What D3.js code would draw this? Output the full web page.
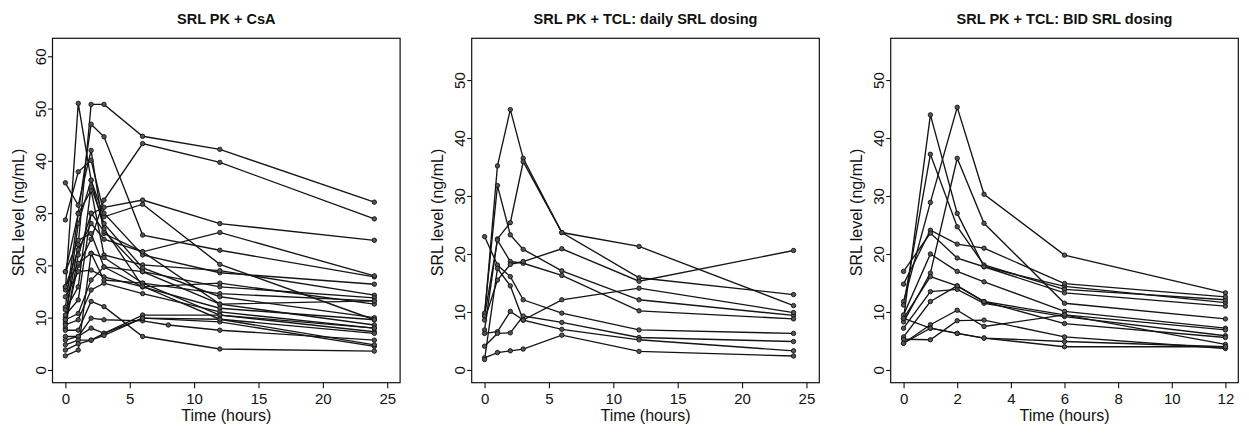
<!DOCTYPE html>
<html>
<head>
<meta charset="utf-8">
<script src="https://cdn.jsdelivr.net/npm/d3@7"></script>
<style>
  body { margin: 0; background: #fff; }
  svg { font-family: "Liberation Sans", Arial, Helvetica, sans-serif; }
  .title { font-size: 14.5px; font-weight: bold; }
  .axis-label { font-size: 16px; }
</style>
</head>
<body>
<div id="chart"></div>
<script>
// sampling times (hours)
var csaTimes = [0, 1, 2, 3, 6, 8, 12, 24];
var dailyTimes = [0, 1, 2, 3, 6, 12, 24];
var bidTimes = [0, 1, 2, 3, 6, 12];

// SRL levels (ng/mL) per subject, null = not sampled
var csaLevels = [
    [10.0, 24.0, 50.8, 50.8, 44.7, null, 42.2, 32.1],
    [9.0, 20.0, 25.0, 32.5, 43.3, null, 39.7, 28.9],
    [12.0, 30.0, 47.0, 44.6, 25.8, null, 22.9, 17.8],
    [8.0, 22.0, 29.9, 31.1, 32.5, null, 28.0, 24.8],
    [15.3, 51.0, 36.3, 29.3, 31.7, null, 20.2, 9.6],
    [35.8, 31.5, 42.0, 26.1, 22.6, null, 26.3, 18.0],
    [28.7, 37.9, 40.1, 30.0, 22.0, null, 18.6, 16.4],
    [18.8, 29.9, 34.4, 22.0, 20.1, null, 19.0, 14.3],
    [18.8, 24.8, 26.1, 19.7, 18.8, null, 15.9, 13.8],
    [15.9, 20.4, 22.3, 21.5, 16.6, null, 14.6, 13.2],
    [14.0, 18.8, 19.1, 17.8, 15.9, null, 16.6, 12.6],
    [11.5, 15.9, 35.0, 28.0, 19.5, null, 14.0, 10.0],
    [10.5, 13.4, 30.0, 26.5, 18.8, null, 12.6, 8.6],
    [9.6, 10.8, 17.2, 19.7, 15.9, null, 11.8, 9.6],
    [8.6, 9.6, 15.3, 16.6, 14.6, null, 11.1, 8.0],
    [7.6, 7.6, 13.1, 12.1, 6.4, null, 4.0, 3.6],
    [6.4, 6.4, 9.9, 9.6, 9.4, 8.6, 7.6, 5.7],
    [5.7, 6.4, 8.0, 7.0, 10.5, null, 10.5, 7.3],
    [4.8, 5.7, 5.7, 7.0, 9.9, null, 9.7, 7.0],
    [3.8, 5.0, 5.7, 6.6, 9.9, null, 9.2, 4.5],
    [2.7, 3.8, 22.3, 17.2, 16.6, null, 10.5, 8.0],
    [9.6, 28.0, 36.3, 27.0, 16.0, null, 9.7, 4.8],
    [15.9, 23.0, 28.0, 25.0, 22.6, null, 12.6, 13.2]
];

var dailyLevels = [
    [9.3, 35.2, 44.9, 36.5, 23.7, 21.3, 11.1],
    [9.8, 31.8, 23.3, 20.8, 17.1, 12.1, 9.4],
    [6.9, 22.6, 25.4, 35.9, 23.7, 15.9, 13.0],
    [23.0, 18.1, 16.1, 12.1, 9.8, 6.9, 6.3],
    [9.3, 22.4, 18.7, 18.4, 16.3, 10.2, 8.8],
    [8.6, 15.5, 18.2, 18.7, 20.9, 15.3, 20.6],
    [6.3, 6.6, 10.1, 8.6, 12.1, 14.1, 9.9],
    [4.1, 6.3, 6.4, 9.3, 8.2, 5.6, 4.9],
    [2.1, 3.0, 3.3, 3.6, 6.0, 3.2, 2.4],
    [1.8, 17.5, 14.5, 8.6, 7.0, 5.2, 3.3]
];

var bidLevels = [
    [8.9, 44.0, 27.0, 17.8, 14.4, 11.6],
    [11.8, 28.9, 45.3, 30.3, 19.8, 13.3],
    [8.3, 16.7, 36.5, 25.3, 11.5, 8.8],
    [11.2, 37.2, 24.7, 18.1, 13.9, 12.1],
    [14.8, 24.1, 21.7, 21.0, 14.9, 12.6],
    [17.0, 23.6, 19.3, 17.8, 13.3, 11.0],
    [9.5, 20.0, 17.0, 15.2, 10.1, 7.2],
    [8.9, 16.1, 14.5, 11.8, 9.5, 6.9],
    [7.2, 13.5, 13.9, 11.5, 9.2, 5.9],
    [5.7, 11.8, 14.5, 11.8, 8.0, 5.6],
    [4.6, 7.8, 10.3, 7.5, 9.5, 4.4],
    [8.9, 7.2, 6.3, 5.5, 4.9, 4.0],
    [5.3, 5.2, 8.5, 8.6, 5.7, 3.7],
    [4.6, 7.2, 6.3, 5.5, 4.0, 4.0]
];

var titles = ['SRL PK + CsA', 'SRL PK + TCL: daily SRL dosing', 'SRL PK + TCL: BID SRL dosing'];
var xTickSets = [[0, 5, 10, 15, 20, 25], [0, 5, 10, 15, 20, 25], [0, 2, 4, 6, 8, 10, 12]];
var yTickSets = [[0, 10, 20, 30, 40, 50, 60], [0, 10, 20, 30, 40, 50], [0, 10, 20, 30, 40, 50]];
var xLimits = [[0, 25], [0, 25], [0, 12]];
var yLimits = [[0, 61], [0, 55], [0, 55]];

var width = 1249;
var height = 433;
var plotTop = 38.3, plotBottom = 382.7;
var panelLefts = [52.5, 471.7, 890.7];
var panelWidth = 347.6;

var svg = d3.select('#chart').append('svg')
    .attr('width', width)
    .attr('height', height);

// R style axis padding: 4% on each side
function pad(lim) {
    var d = (lim[1] - lim[0]) * 0.04;
    return [lim[0] - d, lim[1] + d];
}

function drawPanel(i, times, levels) {
    var left = panelLefts[i];
    var right = left + panelWidth;
    var x = d3.scaleLinear().domain(pad(xLimits[i])).range([left, right]);
    var y = d3.scaleLinear().domain(pad(yLimits[i])).range([plotBottom, plotTop]);

    var g = svg.append('g').attr('class', 'panel');

    var line = d3.line()
        .x(function (d) { return x(d[0]); })
        .y(function (d) { return y(d[1]); });

    // skip unsampled times so lines join the neighbouring samples
    var subjects = levels.map(function (row) {
        return row.map(function (v, k) { return [times[k], v]; })
            .filter(function (p) { return p[1] !== null; });
    });

    g.selectAll('path.subject')
        .data(subjects)
        .enter()
        .append('path')
        .attr('class', 'subject')
        .attr('fill', 'none')
        .attr('stroke', '#141414')
        .attr('stroke-width', 1.35)
        .attr('d', line);

    var points = [].concat.apply([], subjects);
    g.selectAll('circle')
        .data(points)
        .enter()
        .append('circle')
        .attr('cx', function (d) { return x(d[0]); })
        .attr('cy', function (d) { return y(d[1]); })
        .attr('r', 2.2)
        .attr('fill', '#555')
        .attr('stroke', '#111')
        .attr('stroke-width', 0.9);

    // box
    g.append('rect')
        .attr('x', left).attr('y', plotTop)
        .attr('width', right - left).attr('height', plotBottom - plotTop)
        .attr('fill', 'none')
        .attr('stroke', '#111')
        .attr('stroke-width', 1.2);

    // x axis
    var xAxis = g.append('g')
        .attr('transform', 'translate(0,' + plotBottom + ')')
        .call(d3.axisBottom(x).tickValues(xTickSets[i]).tickSize(5.5).tickFormat(d3.format('d')));
    xAxis.select('.domain').remove();
    xAxis.selectAll('line').attr('stroke', '#111').attr('stroke-width', 1.1);
    xAxis.selectAll('text')
        .attr('fill', '#111')
        .attr('y', 10.5)
        .attr('dy', '0.71em')
        .style('font-size', '15px')
        .style('font-family', '"Liberation Sans", Arial, sans-serif');

    // y axis with rotated labels
    var yAxis = g.append('g')
        .attr('transform', 'translate(' + left + ',0)')
        .call(d3.axisLeft(y).tickValues(yTickSets[i]).tickSize(4.5).tickFormat(d3.format('d')));
    yAxis.select('.domain').remove();
    yAxis.selectAll('line').attr('stroke', '#111').attr('stroke-width', 1.1);
    yAxis.selectAll('text')
        .attr('x', null).attr('dy', null)
        .attr('transform', 'translate(-12,0) rotate(-90)')
        .attr('text-anchor', 'middle')
        .attr('dominant-baseline', 'central')
        .attr('fill', '#111')
        .style('font-size', '15px')
        .style('font-family', '"Liberation Sans", Arial, sans-serif');

    // titles and labels
    g.append('text')
        .attr('class', 'title')
        .attr('x', (left + right) / 2)
        .attr('y', 24)
        .attr('text-anchor', 'middle')
        .attr('fill', '#111')
        .text(titles[i]);

    g.append('text')
        .attr('class', 'axis-label')
        .attr('x', (left + right) / 2)
        .attr('y', 421)
        .attr('text-anchor', 'middle')
        .attr('fill', '#111')
        .text('Time (hours)');

    g.append('text')
        .attr('class', 'axis-label')
        .attr('transform', 'translate(' + (left - 34.5) + ',' + ((plotTop + plotBottom) / 2 + 2) + ') rotate(-90)')
        .attr('text-anchor', 'middle')
        .attr('dominant-baseline', 'central')
        .attr('fill', '#111')
        .text('SRL level (ng/mL)');
}

drawPanel(0, csaTimes, csaLevels);
drawPanel(1, dailyTimes, dailyLevels);
drawPanel(2, bidTimes, bidLevels);
</script>
</body>
</html>
